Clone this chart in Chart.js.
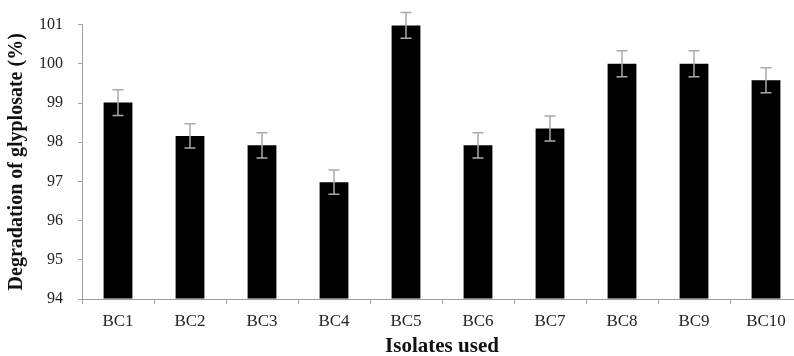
<!DOCTYPE html>
<html>
<head>
<meta charset="utf-8">
<script src="https://cdn.jsdelivr.net/npm/chart.js@4"></script>
<style>
  html, body { margin: 0; padding: 0; background: #fff; overflow: hidden; }
</style>
</head>
<body>
<canvas id="grafico" width="804" height="356"></canvas>
<script>
// dados
const isolados = ["BC1", "BC2", "BC3", "BC4", "BC5", "BC6", "BC7", "BC8", "BC9", "BC10"];
const degradacao = [99.01, 98.16, 97.92, 96.98, 100.98, 97.92, 98.35, 100.0, 100.0, 99.58];
const erro = [0.33, 0.31, 0.32, 0.31, 0.33, 0.32, 0.32, 0.33, 0.33, 0.32];
const eixoY = { min: 94, max: 101, passo: 1 };

const fonteSerif = "'Liberation Serif', 'DejaVu Serif', serif";

// barras de erro desenhadas por cima das barras
const barrasDeErro = {
  id: "barrasDeErro",
  afterDatasetsDraw(chart) {
    const ctx = chart.ctx;
    const x = chart.scales.x;
    const y = chart.scales.y;
    ctx.save();
    ctx.strokeStyle = "#aaaaaa";
    ctx.lineWidth = 1.5;
    degradacao.forEach((valor, i) => {
      const px = x.getPixelForValue(i);
      const topo = y.getPixelForValue(valor + erro[i]);
      const base = y.getPixelForValue(valor - erro[i]);
      ctx.beginPath();
      ctx.moveTo(px, topo);
      ctx.lineTo(px, base);
      ctx.moveTo(px - 5.5, topo);
      ctx.lineTo(px + 5.5, topo);
      ctx.moveTo(px - 5.5, base);
      ctx.lineTo(px + 5.5, base);
      ctx.stroke();
    });
    ctx.restore();
  }
};

const grafico = new Chart(document.getElementById("grafico"), {
  type: "bar",
  data: {
    labels: isolados,
    datasets: [
      {
        label: "Degradação",
        data: degradacao,
        backgroundColor: "#000000",
        borderWidth: 0,
        barPercentage: 0.4,
        categoryPercentage: 1.0,
        base: eixoY.min,
      },
    ],
  },
  options: {
    responsive: false,
    animation: false,
    layout: { padding: { top: 20, right: 2, left: 0, bottom: 0 } },
    plugins: {
      legend: { display: false },
      tooltip: { enabled: false },
    },
    scales: {
      x: {
        grid: { drawOnChartArea: false, drawTicks: true, tickLength: 5, color: "#a0a0a0", offset: true },
        border: { color: "#a0a0a0", width: 1 },
        ticks: { color: "#222", padding: 7, font: { family: fonteSerif, size: 17 }, maxRotation: 0 },
        title: {
          display: true,
          text: "Isolates used",
          color: "#111",
          font: { family: fonteSerif, size: 21, weight: "bold", lineHeight: 1 },
          padding: { top: 0, bottom: -1 },
        },
        afterFit(scale) { scale.height = 57; },
      },
      y: {
        min: eixoY.min,
        max: eixoY.max,
        grid: { drawOnChartArea: false, drawTicks: true, tickLength: 4, color: "#a0a0a0" },
        border: { color: "#a0a0a0", width: 1 },
        ticks: { stepSize: eixoY.passo, color: "#222", padding: 15, font: { family: fonteSerif, size: 16 } },
        title: {
          display: true,
          text: "Degradation of glyplosate (%)",
          color: "#111",
          font: { family: fonteSerif, size: 20, weight: "bold", lineHeight: 1.2 },
          padding: { top: 5, bottom: 0 },
        },
        afterFit(scale) { scale.width = 82; },
      },
    },
  },
  plugins: [barrasDeErro],
});
</script>
</body>
</html>
